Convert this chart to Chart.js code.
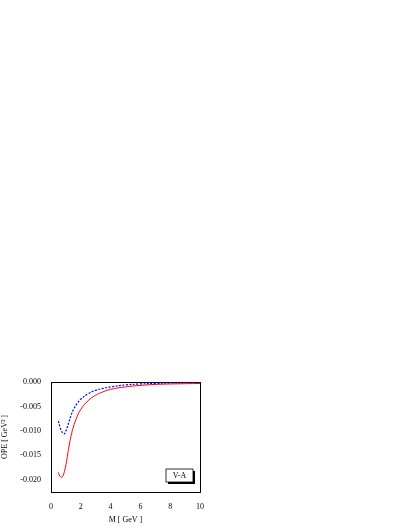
<!DOCTYPE html><html><head><script src="https://cdn.jsdelivr.net/npm/chart.js"></script>
<style>body{margin:0;background:#fff}#w{position:absolute;left:0;top:370px;width:215px;height:159px}</style></head><body><div id="w"><canvas id="c"></canvas></div><script>
const massX=[0.5,0.6,0.7,0.8,0.9,1.0,1.1,1.2,1.35,1.5,1.75,2,2.5,3,3.5,4,5,6,7,8,9,10];
const redY=[-0.0185,-0.0193,-0.0195,-0.0192,-0.0183,-0.0170,-0.0152,-0.0133,-0.0110,-0.0092,-0.0071,-0.0056,-0.0038,-0.0027,-0.0020,-0.0015,-0.0010,-0.0007,-0.0005,-0.0004,-0.00035,-0.0003];
const blueY=[-0.0080,-0.0092,-0.0100,-0.0105,-0.0106,-0.0100,-0.0092,-0.0082,-0.0068,-0.0057,-0.0044,-0.0035,-0.0024,-0.0017,-0.0013,-0.0010,-0.0006,-0.0004,-0.0003,-0.0002,-0.00015,-0.0001];
const xTicks=[0,2,4,6,8,10];
const yTicks=[0,-0.005,-0.010,-0.015,-0.020];
const F={family:'"Liberation Serif"',size:8};
const pts=a=>massX.map((x,i)=>({x,y:a[i]}));
const label={id:'lab',afterDraw(ch){const c=ch.ctx,a=ch.chartArea;const x=a.right-34,y=a.bottom-23,w=27,h=13;c.save();c.fillStyle='#000';c.fillRect(x+2,y+2,w,h);c.fillStyle='#fff';c.fillRect(x,y,w,h);c.strokeStyle='#000';c.lineWidth=0.8;c.strokeRect(x,y,w,h);c.fillStyle='#000';c.font='8px "Liberation Serif"';c.textAlign='center';c.textBaseline='middle';c.fillText('V-A',x+w/2,y+h/2+0.5);c.restore();}};
new Chart(document.getElementById('c'),{type:'scatter',plugins:[label],data:{datasets:[
{data:pts(redY),showLine:true,borderColor:'#ff0000',borderWidth:1,pointRadius:0,tension:0.4},
{data:pts(blueY),showLine:true,borderColor:'#0000ff',borderWidth:1.2,borderDash:[2,1.5],pointRadius:0,tension:0.4}]},
options:{animation:false,responsive:true,maintainAspectRatio:false,layout:{padding:{top:12,right:15}},plugins:{legend:{display:false},tooltip:{enabled:false}},
scales:{x:{min:0,max:10,afterBuildTicks(s){s.ticks=xTicks.map(v=>({value:v}))},grid:{display:false},border:{color:'#000'},ticks:{color:'#000',font:F,padding:2},title:{display:true,text:'M [ GeV ]',color:'#000',font:F,padding:{top:0}},afterFit(s){s.height=37}},
y:{min:-0.0225,max:0,afterBuildTicks(s){s.ticks=yTicks.map(v=>({value:v}))},grid:{display:false},border:{color:'#000'},ticks:{color:'#000',font:F,padding:2,callback:v=>v.toFixed(3)},title:{display:true,text:'OPE [ GeV² ]',color:'#000',font:F,padding:0},afterFit(s){s.width=51}},
x2:{position:'top',min:0,max:10,grid:{display:false},border:{color:'#000'},ticks:{display:false},afterFit(s){s.height=0}},
y2:{position:'right',min:-0.0225,max:0,grid:{display:false},border:{color:'#000'},ticks:{display:false},afterFit(s){s.width=0}}}}},
);
</script></body></html>
